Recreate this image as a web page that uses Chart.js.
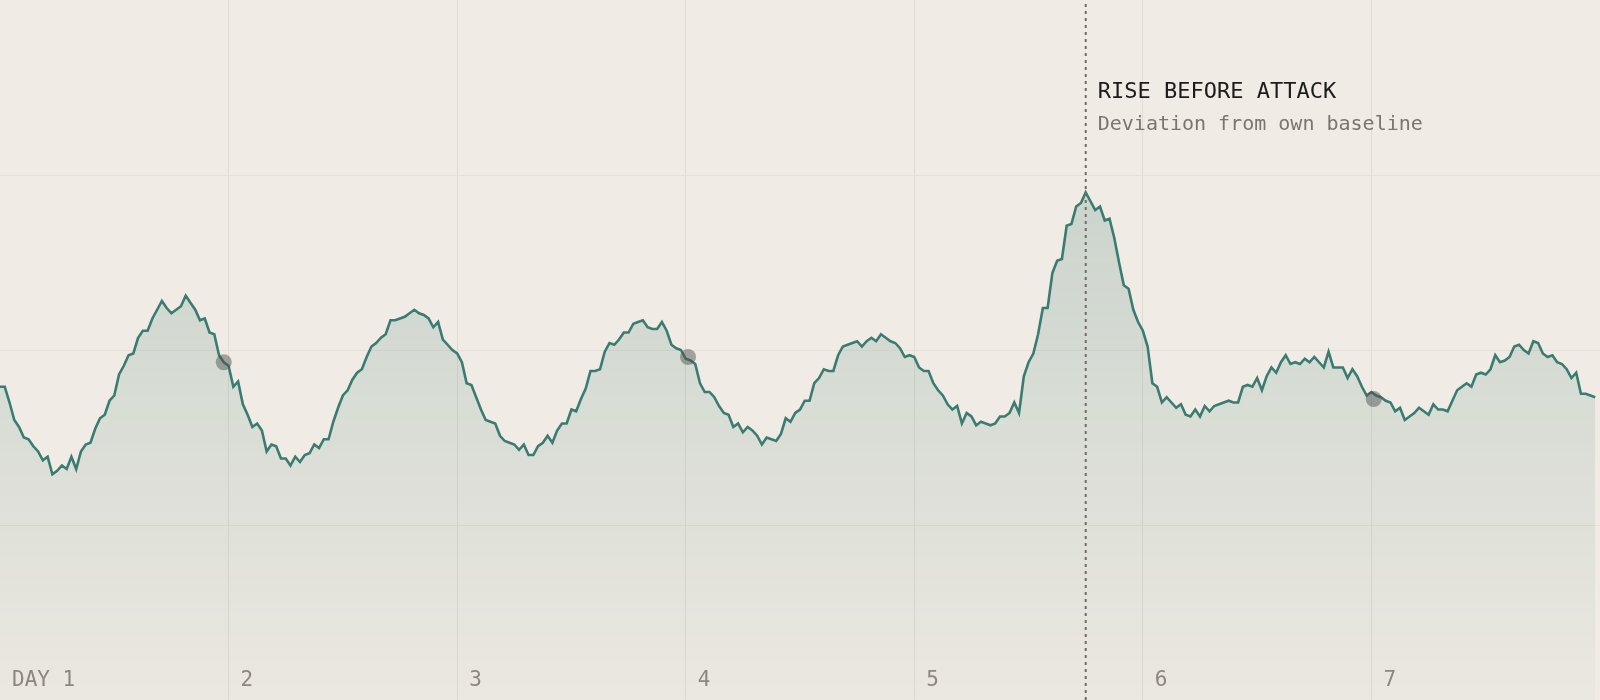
<!DOCTYPE html>
<html>
<head>
<meta charset="utf-8">
<script src="https://cdn.jsdelivr.net/npm/chart.js@4.4.1/dist/chart.umd.min.js"></script>
<style>
  html, body { margin: 0; padding: 0; background: #f0ebe4; }
  canvas { display: block; background: #f0ebe4; }
</style>
</head>
<body>
<canvas id="chartRise" width="1600" height="700"></canvas>
<script>
// Tick labels for each day line
const dayLabels = ["DAY 1", "2", "3", "4", "5", "6", "7"];

// Deviation from own baseline, one reading every 30 minutes (48 per day)
const day1 = [-0.21, -0.21, -0.30, -0.40, -0.44, -0.50, -0.51, -0.55, -0.58, -0.63, -0.61, -0.71, -0.69, -0.66, -0.68, -0.61,
  -0.68, -0.58, -0.54, -0.53, -0.45, -0.39, -0.37, -0.29, -0.26, -0.14, -0.09, -0.03, -0.02, 0.07, 0.11, 0.11,
  0.18, 0.23, 0.28, 0.24, 0.21, 0.23, 0.25, 0.31, 0.27, 0.23, 0.17, 0.18, 0.10, 0.09, -0.03, -0.07];
const day2 = [-0.09, -0.21, -0.18, -0.31, -0.37, -0.44, -0.42, -0.46, -0.58, -0.54, -0.55, -0.62, -0.62, -0.66, -0.61, -0.64,
  -0.60, -0.59, -0.54, -0.56, -0.51, -0.51, -0.41, -0.33, -0.26, -0.23, -0.17, -0.13, -0.11, -0.04, 0.02, 0.04,
  0.07, 0.09, 0.17, 0.17, 0.18, 0.19, 0.21, 0.23, 0.21, 0.20, 0.18, 0.13, 0.16, 0.06, 0.03, 0.00];
const day3 = [-0.02, -0.07, -0.19, -0.20, -0.27, -0.34, -0.40, -0.41, -0.42, -0.49, -0.52, -0.53, -0.54, -0.57, -0.54, -0.60,
  -0.60, -0.55, -0.53, -0.49, -0.53, -0.46, -0.42, -0.42, -0.34, -0.35, -0.28, -0.22, -0.12, -0.12, -0.11, -0.01,
  0.04, 0.03, 0.06, 0.10, 0.10, 0.15, 0.16, 0.17, 0.13, 0.12, 0.12, 0.16, 0.11, 0.03, 0.01, 0.00];
const day4 = [-0.05, -0.06, -0.08, -0.19, -0.24, -0.24, -0.27, -0.32, -0.36, -0.37, -0.44, -0.42, -0.47, -0.44, -0.46, -0.49,
  -0.54, -0.50, -0.51, -0.52, -0.48, -0.39, -0.41, -0.36, -0.34, -0.29, -0.29, -0.19, -0.16, -0.11, -0.12, -0.12,
  -0.03, 0.02, 0.03, 0.04, 0.05, 0.02, 0.05, 0.07, 0.05, 0.09, 0.07, 0.05, 0.04, 0.01, -0.04, -0.03];
const day5 = [-0.04, -0.10, -0.12, -0.12, -0.19, -0.23, -0.26, -0.31, -0.34, -0.32, -0.42, -0.36, -0.38, -0.43, -0.41, -0.42,
  -0.43, -0.42, -0.38, -0.38, -0.36, -0.30, -0.36, -0.15, -0.07, -0.02, 0.09, 0.24, 0.24, 0.44, 0.51, 0.52,
  0.71, 0.72, 0.82, 0.84, 0.90, 0.85, 0.80, 0.82, 0.74, 0.75, 0.64, 0.50, 0.37, 0.35, 0.23, 0.16];
const day6 = [0.11, 0.02, -0.19, -0.21, -0.30, -0.27, -0.30, -0.33, -0.31, -0.37, -0.38, -0.34, -0.38, -0.32, -0.35, -0.32,
  -0.31, -0.30, -0.29, -0.30, -0.30, -0.21, -0.20, -0.21, -0.16, -0.23, -0.15, -0.10, -0.13, -0.07, -0.03, -0.08,
  -0.07, -0.08, -0.05, -0.07, -0.04, -0.07, -0.10, -0.01, -0.10, -0.10, -0.10, -0.16, -0.11, -0.15, -0.21, -0.26];
const day7 = [-0.24, -0.26, -0.27, -0.29, -0.30, -0.35, -0.33, -0.40, -0.38, -0.36, -0.33, -0.35, -0.37, -0.31, -0.34, -0.34,
  -0.35, -0.29, -0.23, -0.21, -0.19, -0.21, -0.14, -0.13, -0.14, -0.11, -0.03, -0.07, -0.06, -0.04, 0.02, 0.03,
  0.00, -0.02, 0.05, 0.04, -0.02, -0.04, -0.03, -0.07, -0.08, -0.11, -0.16, -0.13, -0.25, -0.25, -0.26, -0.27];

// Grey markers on the curve
const markerDays = [0.979, 3.01, 6.01];
const markerValues = [-0.07, -0.04, -0.28];

// Moment of the attack (in days from the start)
const attackDay = 4.75;

const readingsPerDay = 48;
const lineColor = "#3a7c71";
const monoFont = "'DejaVu Sans Mono', 'Liberation Mono', monospace";

// Build the {x, y} points: x counted in days
const days = [day1, day2, day3, day4, day5, day6, day7];
const seriesPoints = [];
days.forEach((values, d) => {
  values.forEach((v, i) => {
    seriesPoints.push({ x: d + i / readingsPerDay, y: v });
  });
});

const markerPoints = markerDays.map((d, i) => ({ x: d, y: markerValues[i] }));
const attackPoints = [{ x: attackDay, y: -2 }, { x: attackDay, y: 2 }];

// Fill that fades toward the bottom
const areaGradient = (context) => {
  const { ctx, chartArea } = context.chart;
  if (!chartArea) return null;
  const g = ctx.createLinearGradient(0, chartArea.top, 0, chartArea.bottom);
  g.addColorStop(0, "rgba(59,125,114,0.27)");
  g.addColorStop(1, "rgba(59,125,114,0.03)");
  return g;
};

// No grid line on the outer edges of the plot
const innerGrid = (color) => (ctx) => {
  const { min, max } = ctx.scale;
  const v = ctx.tick ? ctx.tick.value : null;
  return v === min || v === max ? "rgba(0,0,0,0)" : color;
};

// Day labels sit inside the plot, just right of each grid line
const dayTicks = {
  id: "dayTicks",
  afterDatasetsDraw(chart) {
    const { ctx, scales, chartArea } = chart;
    ctx.save();
    ctx.textAlign = "left";
    ctx.textBaseline = "alphabetic";
    ctx.fillStyle = "#8c877f";
    ctx.font = "21px " + monoFont;
    scales.x.ticks.forEach((t) => {
      const label = dayLabels[t.value];
      if (!label) return;
      ctx.fillText(label, scales.x.getPixelForValue(t.value) + 12, chartArea.bottom - 14);
    });
    ctx.restore();
  }
};

// Label next to the dotted line
const attackNote = {
  id: "attackNote",
  afterDatasetsDraw(chart) {
    const { ctx, scales, chartArea } = chart;
    const x = scales.x.getPixelForValue(attackDay) + 12;
    ctx.save();
    ctx.textAlign = "left";
    ctx.textBaseline = "alphabetic";
    ctx.fillStyle = "#1c1c1c";
    ctx.font = "22px " + monoFont;
    ctx.fillText("RISE BEFORE ATTACK", x, chartArea.top + 98);
    ctx.fillStyle = "#7a756e";
    ctx.font = "20px " + monoFont;
    ctx.fillText("Deviation from own baseline", x, chartArea.top + 130);
    ctx.restore();
  }
};

const ctxRise = document.getElementById("chartRise").getContext("2d");

new Chart(ctxRise, {
  type: "line",
  data: {
    datasets: [
      {
        type: "scatter",
        data: markerPoints,
        showLine: false,
        pointRadius: 8,
        pointHoverRadius: 8,
        pointBorderWidth: 0,
        pointBackgroundColor: "rgba(80,80,80,0.48)",
        order: 0
      },
      {
        data: attackPoints,
        borderColor: "#726d66",
        borderWidth: 2,
        borderDash: [3, 4],
        pointRadius: 0,
        fill: false,
        order: 1
      },
      {
        data: seriesPoints,
        borderColor: lineColor,
        borderWidth: 2.6,
        pointRadius: 0,
        tension: 0,
        fill: "start",
        backgroundColor: areaGradient,
        order: 2
      }
    ]
  },
  options: {
    responsive: false,
    animation: false,
    layout: { padding: 0, autoPadding: false },
    plugins: {
      legend: { display: false },
      tooltip: { enabled: false }
    },
    scales: {
      x: {
        type: "linear",
        min: 0,
        max: 7,
        afterFit: (scale) => { scale.height = 0; },
        border: { display: false },
        grid: { color: innerGrid("#e0dbd3"), lineWidth: 1, drawTicks: false },
        ticks: { stepSize: 1, display: false }
      },
      y: {
        min: -2,
        max: 2,
        afterFit: (scale) => { scale.width = 0; },
        border: { display: false },
        grid: { color: innerGrid("#e5e0d9"), lineWidth: 1, drawTicks: false },
        ticks: { stepSize: 1, display: false }
      }
    }
  },
  plugins: [dayTicks, attackNote]
});
</script>
</body>
</html>
